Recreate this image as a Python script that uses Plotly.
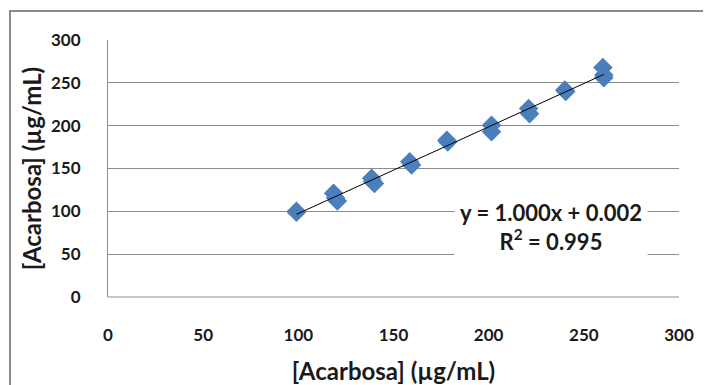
import numpy as np
import plotly.graph_objects as go

# data
x_measured = [99, 99, 118.5, 120.5, 119.5, 138.5, 140, 139, 158.5, 159.5, 178, 178.5,
              201.5, 201.5, 221, 221.5, 240, 240.5, 260, 260.5, 260.5]
y_measured = [99, 100, 121, 112, 116, 138.5, 132.5, 135, 158, 154, 183, 181,
              200.5, 193, 220, 214, 241.5, 240, 268, 259, 256]
tick_vals = [0, 50, 100, 150, 200, 250, 300]
axis_title = "[Acarbosa] (µg/mL)"
equation_text = "y = 1.000x + 0.002<br>R<sup>2</sup> = 0.995"

slope, intercept = np.polyfit(x_measured, y_measured, 1)
x_fit = np.array([min(x_measured), max(x_measured)])
y_fit = slope * x_fit + intercept

FONT = "Lato"
TXT = "#1a1a1a"

# page has an 8px body margin, so the figure is sized/offset to compensate
W, H = 703, 377
L, T, R, B = 100, 32, 32, 88
PW, PH = W - L - R, H - T - B

fig = go.Figure()
fig.add_trace(go.Scatter(
    x=x_measured, y=y_measured, mode="markers",
    marker=dict(symbol="diamond", size=15, color="#4b7fbc", line=dict(width=0)),
    showlegend=False,
))
fig.add_trace(go.Scatter(
    x=x_fit, y=y_fit, mode="lines",
    line=dict(color="#000000", width=1), showlegend=False,
))

fig.add_annotation(
    x=(551 - 108) / PW, y=(297 - 227) / PH, xref="paper", yref="paper",
    xanchor="center", yanchor="middle",
    text=equation_text, showarrow=False, bgcolor="white", borderpad=5,
    font=dict(family=FONT, size=22, color=TXT, weight="bold"),
    align="center",
)

fig.update_layout(
    width=W, height=H,
    margin=dict(l=L, r=R, t=T, b=B),
    paper_bgcolor="white", plot_bgcolor="white",
    xaxis=dict(
        range=[0, 300], tickvals=tick_vals, showgrid=False, zeroline=False,
        showline=False, ticks="", ticklabelstandoff=26, automargin=False,
        tickfont=dict(family=FONT, size=17, color=TXT, weight="bold"),
        title=dict(text=axis_title, standoff=19,
                   font=dict(family=FONT, size=24, color=TXT, weight="bold")),
    ),
    yaxis=dict(
        range=[0, 300], tickvals=tick_vals, showgrid=True, gridcolor="#8c8c8c",
        gridwidth=1, zeroline=False, showline=True, linecolor="#8c8c8c",
        linewidth=1, ticks="", ticklabelstandoff=23, automargin=False,
        tickfont=dict(family=FONT, size=17, color=TXT, weight="bold"),
        title=dict(text=axis_title, standoff=2,
                   font=dict(family=FONT, size=24, color=TXT, weight="bold")),
    ),
    shapes=[
        dict(type="line", xref="paper", yref="paper", x0=0, x1=1, y0=0, y1=0,
             line=dict(color="#8c8c8c", width=1), layer="below"),
        dict(type="rect", xref="paper", yref="paper",
             x0=(2 - L) / PW, x1=(W + 20 - L) / PW,
             y0=-(B + 20) / PH, y1=(T - 3) / PH + 1,
             line=dict(color="#8a8a8a", width=2), layer="below"),
    ],
)

fig.write_html("out.html")
